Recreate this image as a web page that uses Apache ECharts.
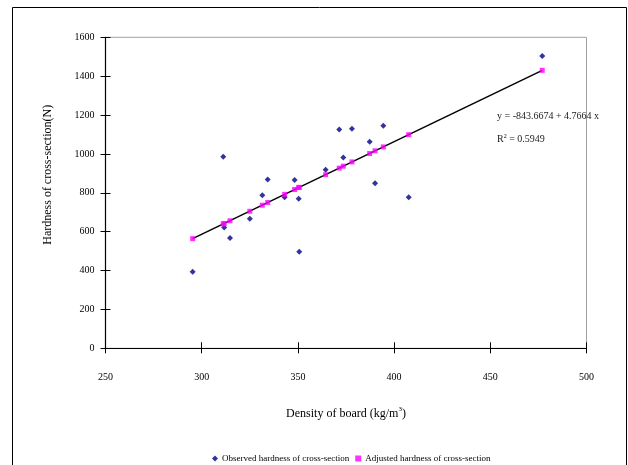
<!DOCTYPE html>
<html>
<head>
<meta charset="utf-8">
<script src="https://cdn.jsdelivr.net/npm/echarts@6/dist/echarts.min.js"></script>
<style>html,body{margin:0;padding:0;background:#fff;}#c{width:628px;height:465px;}</style>
</head>
<body>
<div id="c"></div>
<script>
// Density of board (kg/m3) for each sample
var density = [295.3, 311.2, 311.7, 314.7, 325.0, 331.5, 334.3, 343.1, 348.3, 350.4, 350.7, 364.4, 371.5, 373.6, 378.1, 387.3, 390.1, 394.4, 407.6, 477.0];
// Observed hardness of cross-section (N)
var observed = [394, 985, 622, 567, 667, 787, 869, 777, 866, 770, 497, 919, 1126, 982, 1130, 1063, 849, 1145, 777, 1504];
// Adjusted (fitted) hardness of cross-section (N)
var adjusted = [564, 640, 642, 656, 705, 736, 750, 792, 817, 827, 828, 893, 927, 937, 959, 1002, 1016, 1036, 1099, 1430];
// Regression line end points [density, hardness]
var fitLine = [[295.3, 564], [477.0, 1430]];
var seriesNames = ['Observed hardness of cross-section', 'Adjusted hardness of cross-section'];
var eqText = 'y = -843.6674 + 4.7664 x';
var r2Value = '0.5949';

var FONT = "'Liberation Serif', 'Times New Roman', serif";
function pairs(xs, ys){ return xs.map(function(x,i){ return [x, ys[i]]; }); }
function plain(v){ return String(v); }

var chart = echarts.init(document.getElementById('c'), null, {renderer:'canvas'});
var axisBase = {
  type:'value', splitLine:{show:false}
};
chart.setOption({
  animation:false,
  backgroundColor:'#fff',
  textStyle:{fontFamily:FONT},
  grid:{left:105.5, right:41.5, top:37.3, bottom:116.7, show:true, borderColor:'#a0a0a0', borderWidth:1, backgroundColor:'transparent'},
  xAxis:[
    Object.assign({}, axisBase, {
      min:250, max:500, interval:50, position:'bottom',
      axisLine:{show:true, onZero:false, lineStyle:{color:'#000', width:1.2}},
      axisTick:{show:true, inside:false, length:5, lineStyle:{color:'#000'}},
      axisLabel:{show:true, margin:24, color:'#000', fontSize:10, fontFamily:FONT, formatter:plain},
      name:'{a|Density of board (kg/m}{s|3}{a|)}',
      nameLocation:'middle', nameGap:57,
      nameTextStyle:{rich:{a:{fontSize:12, fontFamily:FONT, color:'#000'}, s:{fontSize:7, fontFamily:FONT, color:'#000', verticalAlign:'top', padding:[0,0,10,0]}}}
    }),
    Object.assign({}, axisBase, {
      min:250, max:500, interval:50, position:'bottom',
      axisLine:{show:false, onZero:false},
      axisTick:{show:true, inside:true, length:6, lineStyle:{color:'#000'}},
      axisLabel:{show:false}
    })
  ],
  yAxis:[
    Object.assign({}, axisBase, {
      min:0, max:1600, interval:200, position:'left',
      axisLine:{show:true, onZero:false, lineStyle:{color:'#000', width:1.2}},
      axisTick:{show:true, inside:false, length:5, lineStyle:{color:'#000'}},
      axisLabel:{show:true, margin:11, color:'#000', fontSize:10, fontFamily:FONT, formatter:plain},
      name:'Hardness of cross-section(N)',
      nameLocation:'middle', nameGap:52,
      nameTextStyle:{fontSize:12, fontFamily:FONT, color:'#000', padding:[0,0,0,36]}
    }),
    Object.assign({}, axisBase, {
      min:0, max:1600, interval:200, position:'left',
      axisLine:{show:false, onZero:false},
      axisTick:{show:true, inside:true, length:5, lineStyle:{color:'#000'}},
      axisLabel:{show:false}
    })
  ],
  legend:{
    data:[{name:seriesNames[0], icon:'diamond'}, {name:seriesNames[1], icon:'rect'}],
    left:207, top:449, itemWidth:6, itemHeight:6, itemGap:6,
    textStyle:{fontSize:9, fontFamily:FONT, color:'#000', padding:[0,0,0,-1]}
  },
  graphic:[
    {type:'rect', shape:{x:12.5, y:7.5, width:614, height:480}, style:{fill:'none', stroke:'#000', lineWidth:1}, silent:true},
    {type:'text', left:497, top:111, style:{text:eqText, font:"10px "+FONT, fill:'#222'}},
    {type:'text', left:497, top:133, style:{
      text:'{a|R}{s|2}{a| = ' + r2Value + '}',
      rich:{a:{fontSize:10, fontFamily:FONT, fill:'#222', color:'#222'}, s:{fontSize:6, fontFamily:FONT, color:'#222', verticalAlign:'top', padding:[0,0,6,0]}}
    }}
  ],
  series:[
    {type:'line', data:fitLine, symbol:'none', lineStyle:{color:'#000', width:1.5}, silent:true, z:1},
    {type:'scatter', name:seriesNames[0], data:pairs(density, observed), symbol:'diamond', symbolSize:6, itemStyle:{color:'#000080'}, z:2},
    {type:'scatter', name:seriesNames[1], data:pairs(density, adjusted), symbol:'rect', symbolSize:5, itemStyle:{color:'#ff00ff'}, z:3}
  ]
});
</script>
</body>
</html>
